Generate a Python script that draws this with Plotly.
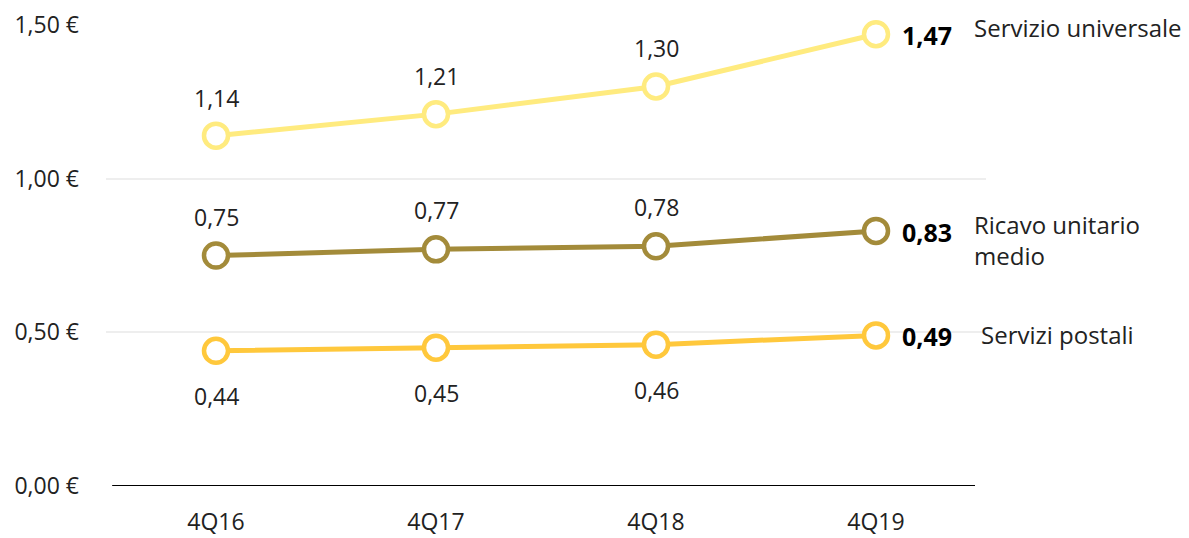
import plotly.graph_objects as go

categories = ["4Q16", "4Q17", "4Q18", "4Q19"]
servizio_universale = [1.14, 1.21, 1.30, 1.47]
ricavo_unitario = [0.75, 0.77, 0.78, 0.83]
servizi_postali = [0.44, 0.45, 0.46, 0.49]
series_names = ["Servizio universale", "Ricavo unitario<br>medio", "Servizi postali"]
tick_vals = [0.0, 0.5, 1.0, 1.5]
tick_text = ["0,00 €", "0,50 €", "1,00 €", "1,50 €"]

colors = ["#FFEB7F", "#A38B3A", "#FFC83C"]
FONT = "Open Sans, Noto Sans, sans-serif"
TXT = "#222222"

def fmt(v):
    return f"{v:.2f}".replace(".", ",")

fig = go.Figure()
all_series = [servizio_universale, ricavo_unitario, servizi_postali]
for vals, col, name in zip(all_series, colors, series_names):
    fig.add_trace(go.Scatter(
        x=categories, y=vals, mode="lines+markers", name=name,
        line=dict(color=col, width=5),
        marker=dict(size=24, color="white", line=dict(color=col, width=4.5)),
        cliponaxis=False, showlegend=False, hoverinfo="skip",
    ))

annotations = []
label_shift = [38, 39, -45]
for vals, shift in zip(all_series, label_shift):
    for i, (c, v) in enumerate(zip(categories, vals)):
        if i < len(categories) - 1:
            annotations.append(dict(x=c, y=v, xref="x", yref="y", text=fmt(v),
                                    showarrow=False, yshift=shift,
                                    font=dict(family=FONT, size=23, color=TXT)))
        else:
            annotations.append(dict(x=c, y=v, xref="x", yref="y", text="<b>" + fmt(v) + "</b>",
                                    showarrow=False, xanchor="left", xshift=24, yshift=-1,
                                    font=dict(family=FONT, size=25, color="#000000")))
name_xshift = [96, 96, 103]
name_yshift = [7, -9, 1]
for vals, name, xs, ys in zip(all_series, series_names, name_xshift, name_yshift):
    annotations.append(dict(x=categories[-1], y=vals[-1], xref="x", yref="y", text=name,
                            showarrow=False, xanchor="left", align="left",
                            xshift=xs, yshift=ys,
                            font=dict(family=FONT, size=24, color=TXT)))

fig.update_layout(
    width=1181, height=530,
    margin=dict(l=98, r=203, t=17, b=52, autoexpand=False),
    paper_bgcolor="white", plot_bgcolor="white",
    font=dict(family=FONT, size=23, color=TXT),
    annotations=annotations,
    shapes=[dict(type="line", xref="paper", yref="y", x0=0.007, x1=0.9875, y0=0, y1=0,
                 line=dict(color="#000000", width=1.8))],
    xaxis=dict(type="category", range=[-0.5, 3.5], showgrid=False, zeroline=False,
               showline=False, ticks="", automargin=False,
               tickfont=dict(family=FONT, size=23, color=TXT),
               ticklabelstandoff=20),
    yaxis=dict(range=[0, 1.5], tickvals=tick_vals, ticktext=tick_text, showgrid=True,
               gridcolor="#EEEEEE", gridwidth=1.5, zeroline=False, showline=False,
               ticks="", automargin=False,
               tickfont=dict(family=FONT, size=23, color=TXT),
               ticklabelstandoff=26),
)

fig.write_html("out.html")
